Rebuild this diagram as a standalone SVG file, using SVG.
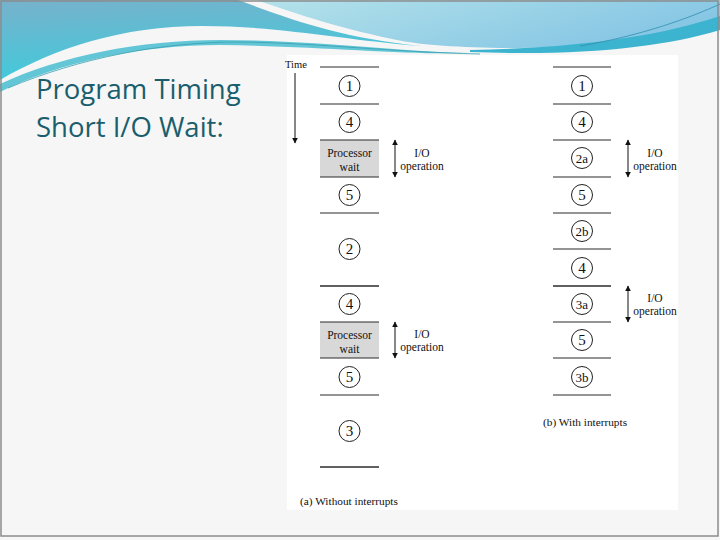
<svg xmlns="http://www.w3.org/2000/svg" width="720" height="540" viewBox="0 0 720 540">
<defs>
<linearGradient id="gMed" x1="0" y1="0" x2="0.3" y2="1">
<stop offset="0" stop-color="#78b1cb"/>
<stop offset="1" stop-color="#3fcbdc"/>
</linearGradient>
<linearGradient id="gLight" x1="0" y1="0" x2="1" y2="0.4">
<stop offset="0" stop-color="#b4e2ea"/>
<stop offset="1" stop-color="#86c6e4"/>
</linearGradient>
<marker id="ah" viewBox="0 0 10 10" refX="9" refY="5" markerWidth="6" markerHeight="6" markerUnits="userSpaceOnUse" orient="auto-start-reverse">
<path d="M0,0 L10,5 L0,10 Z" fill="#111"/>
</marker>
<style>
.ln{stroke:#2b2b2b;stroke-width:1.2;fill:none}
.cir{fill:#fff;stroke:#222;stroke-width:1}
.num{font-family:"Liberation Serif",serif;font-size:15px;fill:#111;text-anchor:middle}
.num2{font-family:"Liberation Serif",serif;font-size:13px;fill:#111;text-anchor:middle}
.sm{font-family:"Liberation Serif",serif;font-size:11.5px;fill:#111;text-anchor:middle}
.cap{font-family:"Liberation Serif",serif;font-size:11.3px;fill:#111}
.gray{fill:#d8d8d8}
.arr{stroke:#111;stroke-width:1;fill:none;marker-start:url(#ah);marker-end:url(#ah)}
.title{font-family:"Open Sans","Noto Sans",sans-serif;font-size:27.5px;fill:#1a5e6d}
</style>
</defs>

<!-- slide background -->
<rect x="0" y="0" width="720" height="540" fill="#f6f6f6"/>
<g id="header">
<path d="M0,0 H238 C292,20 342,38 422,46 C342,40 282,26 202,26 C122,26 55,48 0,80 Z" fill="url(#gMed)"/>
<path d="M256,0 H720 V18 C680,36 620,46 520,48 C460,48 425,45 402,41 C342,29 300,15 256,0 Z" fill="url(#gLight)"/>
<path d="M470,50 C580,48 660,36 720,16 V30 C660,48 580,56 470,52 Z" fill="#3db4cf"/>
<path d="M0,84 C60,56 140,40 220,40 C320,40 400,52 470,53 C400,55 320,46 220,45 C140,45 60,62 0,92 Z" fill="#63c6d6"/>
<path d="M8,88 C80,58 160,42 240,42 C320,43 390,52 480,54" fill="none" stroke="#3a9fb0" stroke-width="0.8"/>
<path d="M580,46 C640,36 690,18 720,4" fill="none" stroke="#2f8fb0" stroke-width="0.8"/>
</g>
<rect x="1" y="1" width="717" height="535" fill="none" stroke="#8c8c8c" stroke-width="1.5"/>

<!-- title -->
<g id="title">
<text class="title" x="36" y="99">Program Timing</text>
<text class="title" x="36" y="137">Short I/O Wait:</text>
</g>

<!-- figure panel -->
<rect x="287" y="55" width="391" height="455" fill="#ffffff"/>

<!-- time axis -->
<g id="time">
<text class="cap" x="285" y="68" style="font-size:10.5px">Time</text>
<line x1="295" y1="73" x2="295" y2="143" class="arr" style="marker-start:none"/>
</g>

<!-- (a) without interrupts -->
<g id="a-wait1"><rect class="gray" x="320" y="140" width="59" height="37"/><text class="sm" x="349.5" y="157">Processor</text><text class="sm" x="349.5" y="171">wait</text></g>
<g id="a-wait2"><rect class="gray" x="320" y="322" width="59" height="36"/><text class="sm" x="349.5" y="339">Processor</text><text class="sm" x="349.5" y="353">wait</text></g>
<g id="a-lines">
<line class="ln" x1="320" y1="67" x2="379" y2="67"/>
<line class="ln" x1="320" y1="104" x2="379" y2="104"/>
<line class="ln" x1="320" y1="140" x2="379" y2="140"/>
<line class="ln" x1="320" y1="177" x2="379" y2="177"/>
<line class="ln" x1="320" y1="213" x2="379" y2="213"/>
<line class="ln" x1="320" y1="286" x2="379" y2="286" style="stroke-width:1.6"/>
<line class="ln" x1="320" y1="322" x2="379" y2="322"/>
<line class="ln" x1="320" y1="358" x2="379" y2="358"/>
<line class="ln" x1="320" y1="395" x2="379" y2="395"/>
<line class="ln" x1="320" y1="467" x2="379" y2="467" style="stroke-width:1.6"/>
</g>
<g id="a1"><circle class="cir" cx="349.5" cy="86" r="10.5"/><text class="num" x="349.5" y="91">1</text></g>
<g id="a4"><circle class="cir" cx="349.5" cy="122" r="10.5"/><text class="num" x="349.5" y="127">4</text></g>
<g id="a5"><circle class="cir" cx="349.5" cy="195" r="10.5"/><text class="num" x="349.5" y="200">5</text></g>
<g id="a2"><circle class="cir" cx="349.5" cy="249" r="10.5"/><text class="num" x="349.5" y="254">2</text></g>
<g id="a4b"><circle class="cir" cx="349.5" cy="304" r="10.5"/><text class="num" x="349.5" y="309">4</text></g>
<g id="a5b"><circle class="cir" cx="349.5" cy="377" r="10.5"/><text class="num" x="349.5" y="382">5</text></g>
<g id="a3"><circle class="cir" cx="349.5" cy="431" r="10.5"/><text class="num" x="349.5" y="436">3</text></g>
<g id="a-io1"><text class="sm" x="422" y="157">I/O</text><text class="sm" x="422" y="170">operation</text></g>
<g id="a-io2"><text class="sm" x="422" y="338">I/O</text><text class="sm" x="422" y="351">operation</text></g>
<text class="cap" x="300" y="505">(a) Without interrupts</text>

<!-- (b) with interrupts -->
<g id="b-lines">
<line class="ln" x1="553" y1="67" x2="611" y2="67"/>
<line class="ln" x1="553" y1="104" x2="611" y2="104"/>
<line class="ln" x1="553" y1="140" x2="611" y2="140"/>
<line class="ln" x1="553" y1="177" x2="611" y2="177"/>
<line class="ln" x1="553" y1="213" x2="611" y2="213"/>
<line class="ln" x1="553" y1="249" x2="611" y2="249"/>
<line class="ln" x1="553" y1="286" x2="611" y2="286" style="stroke-width:1.6"/>
<line class="ln" x1="553" y1="322" x2="611" y2="322"/>
<line class="ln" x1="553" y1="358" x2="611" y2="358"/>
<line class="ln" x1="553" y1="395" x2="611" y2="395"/>
</g>
<g id="b1"><circle class="cir" cx="582" cy="86" r="10.5"/><text class="num" x="582" y="91">1</text></g>
<g id="b4"><circle class="cir" cx="582" cy="122" r="10.5"/><text class="num" x="582" y="127">4</text></g>
<g id="b2a"><circle class="cir" cx="582" cy="158" r="10.5"/><text class="num2" x="582" y="162.5">2a</text></g>
<g id="b5"><circle class="cir" cx="582" cy="195" r="10.5"/><text class="num" x="582" y="200">5</text></g>
<g id="b2b"><circle class="cir" cx="582" cy="231" r="10.5"/><text class="num2" x="582" y="235.5">2b</text></g>
<g id="b4b"><circle class="cir" cx="582" cy="268" r="10.5"/><text class="num" x="582" y="273">4</text></g>
<g id="b3a"><circle class="cir" cx="582" cy="304" r="10.5"/><text class="num2" x="582" y="308.5">3a</text></g>
<g id="b5b"><circle class="cir" cx="582" cy="340" r="10.5"/><text class="num" x="582" y="345">5</text></g>
<g id="b3b"><circle class="cir" cx="582" cy="377" r="10.5"/><text class="num2" x="582" y="381.5">3b</text></g>
<g id="b-io1"><text class="sm" x="655" y="157">I/O</text><text class="sm" x="655" y="170">operation</text></g>
<g id="b-io2"><text class="sm" x="655" y="302">I/O</text><text class="sm" x="655" y="315">operation</text></g>
<text class="cap" x="543" y="426">(b) With interrupts</text>

<!-- connectors -->
<g id="connectors">
<line class="arr" x1="395" y1="140" x2="395" y2="177"/>
<line class="arr" x1="395" y1="322" x2="395" y2="358"/>
<line class="arr" x1="628" y1="140" x2="628" y2="177"/>
<line class="arr" x1="628" y1="286" x2="628" y2="322"/>
</g>
</svg>
